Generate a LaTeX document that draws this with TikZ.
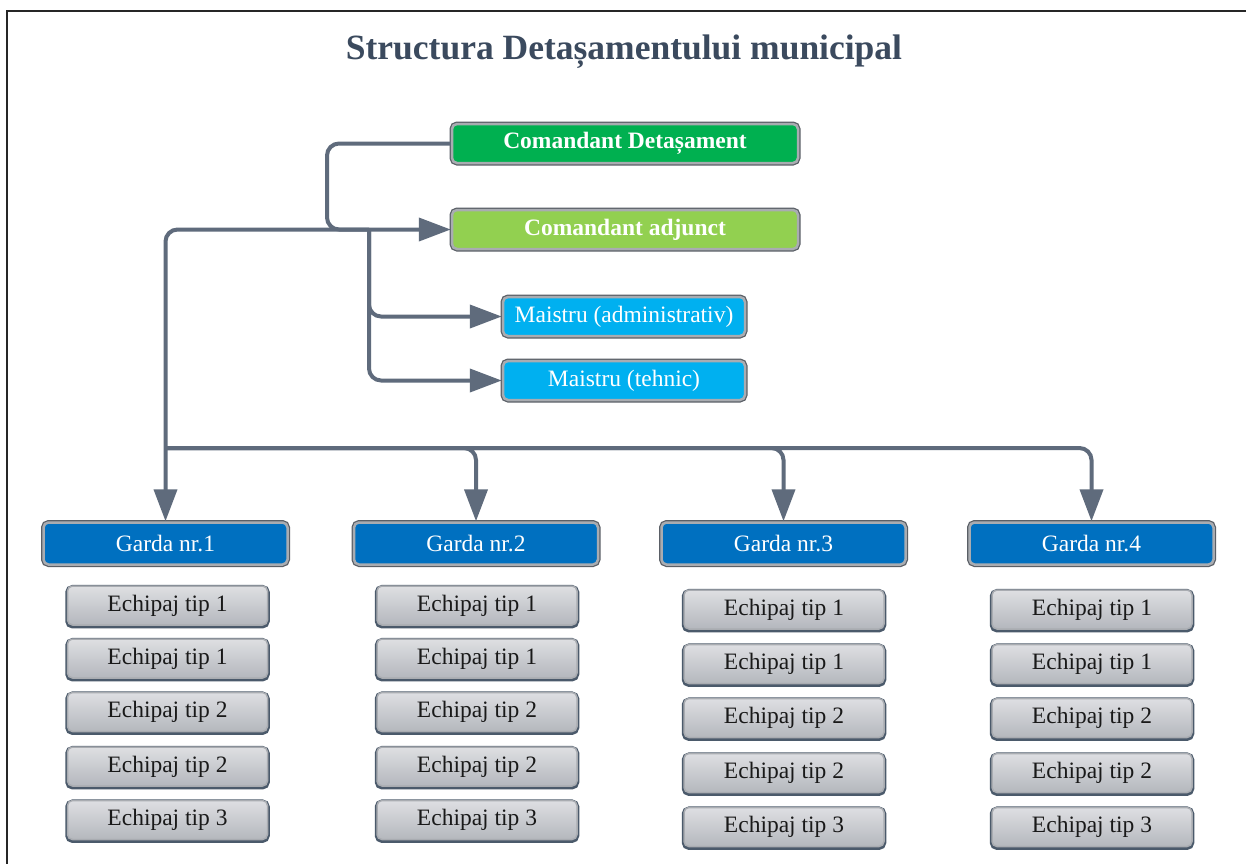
\documentclass[tikz,border=0pt]{standalone}
\usepackage{fontspec}
\setmainfont{Liberation Serif}
\usetikzlibrary{arrows.meta}

\definecolor{titlecol}{HTML}{3B4A5E}
\definecolor{linecol}{HTML}{5F6B7C}
\definecolor{darkgreen}{HTML}{00B050}
\definecolor{lightgreen}{HTML}{92D050}
\definecolor{skyblue}{HTML}{00B0F0}
\definecolor{gardablue}{HTML}{0070C0}
\definecolor{bevelout}{HTML}{5A5F66}
\definecolor{bevelin}{HTML}{A9ACB1}
\definecolor{crewedge}{HTML}{4B5A6B}
\definecolor{crewtop}{HTML}{DEDFE2}
\definecolor{crewbot}{HTML}{B4B7BD}

\tikzset{
  boxbase/.style={rounded corners=5pt, inner sep=0pt,
    font=\fontsize{23.5}{26}\selectfont},
  colbox/.style={boxbase, fill=#1, draw=bevelin, line width=2.5pt,
    preaction={draw=bevelout, line width=5pt}, text=white},
  cmdbox/.style={colbox=#1, font=\fontsize{23.5}{26}\selectfont\bfseries,
    minimum width=346, minimum height=39},
  maistrubox/.style={colbox=skyblue, minimum width=242, minimum height=39},
  gardabox/.style={colbox=gardablue, minimum width=244, minimum height=42},
  crewbox/.style={boxbase, top color=crewtop, bottom color=crewbot,
    draw=bevelin, line width=1.5pt,
    preaction={draw=crewedge, line width=4.5pt, transform canvas={yshift=-1.2pt}},
    text=black!90, minimum width=200, minimum height=39},
  conn/.style={draw=linecol, line width=4pt, rounded corners=12pt},
  tip/.style={-{Triangle[length=32pt,width=23pt]}},
}

\begin{document}
\begin{tikzpicture}[x=1pt,y=-1pt]
\useasboundingbox (0,0) rectangle (1246,863);
\fill[white] (0,0) rectangle (1246,863);

% frame along the top and left
\draw[line width=2.5pt, draw=black!85] (7,870) -- (7,11) -- (1250,11);

% title
\node[font=\fontsize{35.5}{40}\selectfont\bfseries, text=titlecol] (title)
  at (624,52) {Structura Detașamentului municipal};

% command boxes
\node[cmdbox=darkgreen] (cd) at (625,143.5) {Comandant Detașament};
\node[cmdbox=lightgreen] (adj) at (625,229.5) {Comandant adjunct};
\node[maistrubox] (madm) at (624,316.5) {Maistru (administrativ)};
\node[maistrubox] (mteh) at (624,380.5) {Maistru (tehnic)};

% garda boxes
\node[gardabox] (g1) at (165.5,543.5) {Garda nr.1};
\node[gardabox] (g2) at (476,543.5) {Garda nr.2};
\node[gardabox] (g3) at (783.5,543.5) {Garda nr.3};
\node[gardabox] (g4) at (1091.5,543.5) {Garda nr.4};

% crews under gardas 1 and 2
\foreach \col/\cx in {1/167.5, 2/477}{
  \foreach \r/\cy/\t in {1/605.5/1, 2/658.5/1, 3/712/2, 4/766.5/2, 5/820/3}{
    \node[crewbox] (e\col\r) at (\cx,\cy) {Echipaj tip \t};
  }
}
% crews under gardas 3 and 4
\foreach \col/\cx in {3/784, 4/1092}{
  \foreach \r/\cy/\t in {1/609.5/1, 2/664/1, 3/718/2, 4/773/2, 5/827/3}{
    \node[crewbox] (e\col\r) at (\cx,\cy) {Echipaj tip \t};
  }
}

% junction points of the connector tree
\coordinate (jm) at (369,229.5);
\coordinate (jg) at (165.5,448);

% connectors
\draw[conn, tip] (cd.west) -- (327,143.5) -- (327,229.5) -- (adj.west);
\draw[conn, tip] (jm) -- (165.5,229.5) -- (g1.north);
\draw[conn, tip] (jm) -- (369,316.5) -- (madm.west);
\draw[conn, tip] (jm) -- (369,380.5) -- (mteh.west);
\draw[conn, tip] (jg) -- (476,448) -- (g2.north);
\draw[conn, tip] (jg) -- (783.5,448) -- (g3.north);
\draw[conn, tip] (jg) -- (1091.5,448) -- (g4.north);
\end{tikzpicture}
\end{document}
